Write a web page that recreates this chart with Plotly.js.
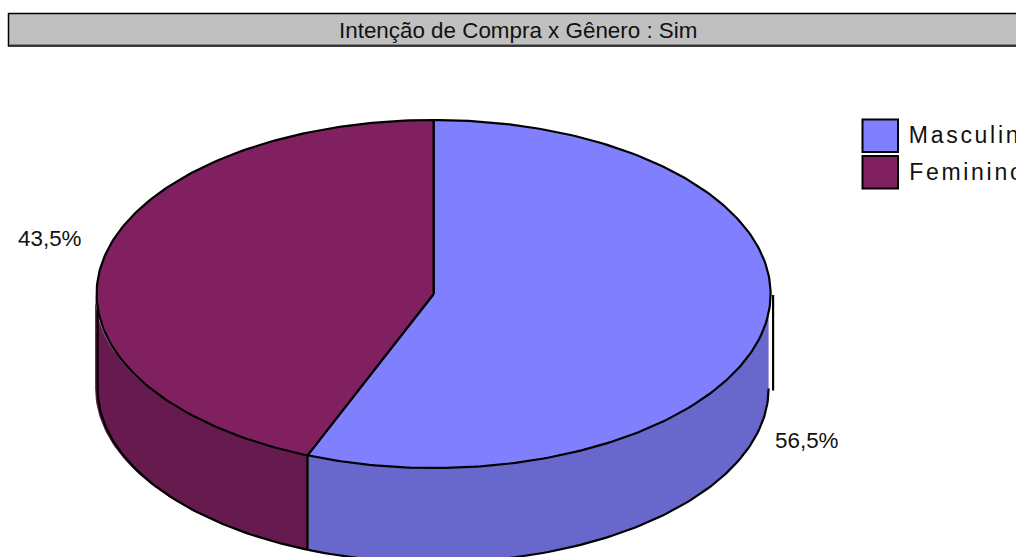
<!DOCTYPE html>
<html><head><meta charset="utf-8">
<script src="https://cdn.plot.ly/plotly-3.0.1.min.js"></script>
<style>html,body{margin:0;padding:0;background:#fff;overflow:hidden}#c{width:1016px;height:557px}</style>
</head><body><div id="c"></div>
<script>
const chartTitle = 'Intenção de Compra x Gênero : Sim';
const categories = ['Masculino', 'Feminino'];
const shares = [56.5, 43.5];
const topColors = ['#8080FF', '#802060'];
const wallColors = ['#6868CC', '#661A4D'];

// drawing geometry of the tilted disc, in the pixel-scaled axes
const W = 1016, H = 557, cx = 433.6, cy = 294, rx = 337, ry = 174, depth = 94.5;
const warp = 3.6; // foreshortening of the original renderer, in degrees
const rad = d => d * Math.PI / 180;
const ang = d => d + warp * Math.sin(rad(d));
const px = (d, r = rx) => cx + r * Math.sin(rad(d));
const py = (d, dz = 0) => cy - ry * Math.cos(rad(d)) + dz;
function range(a, b) { const o = []; const n = Math.max(2, Math.ceil(Math.abs(b - a))); for (let i = 0; i <= n; i++) o.push(a + (b - a) * i / n); return o; }

let acc = 0;
const slices = shares.map((v, i) => {
  const total = shares.reduce((s, x) => s + x, 0);
  const a = ang(acc / total * 360); acc += v; const b = ang(acc / total * 360);
  return { a, b, name: categories[i], top: topColors[i], wall: wallColors[i] };
});

const traces = [];
const base = { type: 'scatter', mode: 'lines', hoverinfo: 'skip', showlegend: false };
slices.forEach((s, i) => {
  const a = Math.max(s.a, 90), b = Math.min(s.b, 270);
  if (b <= a) return;
  const r = i === 0 ? rx - 2 : rx + 1.5;
  const arc = range(a, b);
  traces.push({ ...base, x: arc.map(d => px(d, r)).concat(arc.slice().reverse().map(d => px(d, r))),
    y: arc.map(d => py(d)).concat(arc.slice().reverse().map(d => py(d, depth))),
    fill: 'toself', fillcolor: s.wall, line: { width: 0, color: s.wall } });
  traces.push({ ...base, x: arc.map(d => px(d, i === 0 ? rx - 2 : rx - 1)), y: arc.map(d => py(d, depth)),
    line: { color: '#000', width: 2.2 } });
});
// wall edges
traces.push({ ...base, x: [px(slices[0].b), px(slices[0].b)], y: [py(slices[0].b), py(slices[0].b, depth)], line: { color: '#000', width: 2.4 } });
traces.push({ ...base, x: [px(270, rx - 1), px(270, rx - 1)], y: [py(270), py(270, depth)], line: { color: '#000', width: 2.2 } });
traces.push({ ...base, x: [px(90, rx + 2.5), px(90, rx + 2.5)], y: [py(90) + 1, py(90, depth) + 2], line: { color: '#000', width: 2.2 } });
// top faces
slices.forEach(s => {
  const arc = range(s.a, s.b);
  traces.push({ ...base, name: s.name, x: [cx].concat(arc.map(d => px(d)), [cx]), y: [cy].concat(arc.map(d => py(d)), [cy]),
    fill: 'toself', fillcolor: s.top, line: { color: '#000', width: 2.2, shape: 'linear' } });
});

const fmt = v => v.toFixed(1).replace('.', ',') + '%';
const shapes = [
  { type: 'rect', xref: 'x', yref: 'y', x0: 8.5, x1: 1030, y0: 13.5, y1: 46, fillcolor: '#C0C0C0', line: { color: '#000', width: 1.5 }, layer: 'below' },
  { type: 'line', xref: 'x', yref: 'y', x0: 10, x1: 1030, y0: 44.5, y1: 44.5, line: { color: '#808080', width: 1 }, layer: 'below' },
];
const legendY = [136, 172.5];
categories.forEach((c, i) => shapes.push({ type: 'rect', xref: 'x', yref: 'y', x0: 862.5, x1: 898, y0: legendY[i] - 16.5, y1: legendY[i] + 16,
  fillcolor: topColors[i], line: { color: '#000', width: 2 } }));

const spacing = 2.7;
const base2 = { xref: 'x', yref: 'y', showarrow: false, font: { family: 'Liberation Sans, Arial, sans-serif', color: '#111' } };
const annotations = [
  { ...base2, text: chartTitle, x: 518, y: 30.5, xanchor: 'center', yanchor: 'middle', font: { ...base2.font, size: 22.4 } },
  { ...base2, text: fmt(shares[1]), x: 49.5, y: 238.5, xanchor: 'center', yanchor: 'middle', font: { ...base2.font, size: 22.4 } },
  { ...base2, text: fmt(shares[0]), x: 806.5, y: 440.5, xanchor: 'center', yanchor: 'middle', font: { ...base2.font, size: 22.4 } },
].concat(categories.map((c, i) => ({ ...base2, text: c, x: 907 + c.length * spacing / 2, y: legendY[i] - 1, xanchor: 'left', yanchor: 'middle', font: { ...base2.font, size: 23 } })));

const layout = {
  width: W, height: H, margin: { l: 0, r: 0, t: 0, b: 0 }, paper_bgcolor: '#fff', plot_bgcolor: '#fff', showlegend: false,
  xaxis: { range: [0, W], visible: false, fixedrange: true },
  yaxis: { range: [H, 0], visible: false, fixedrange: true },
  shapes, annotations, hovermode: false,
};
Plotly.newPlot('c', traces, layout, { displayModeBar: false, staticPlot: true }).then(() => {
  document.querySelectorAll('.annotation-text').forEach(t => {
    if (categories.includes(t.textContent)) t.style.letterSpacing = spacing + 'px';
  });
});
</script></body></html>
